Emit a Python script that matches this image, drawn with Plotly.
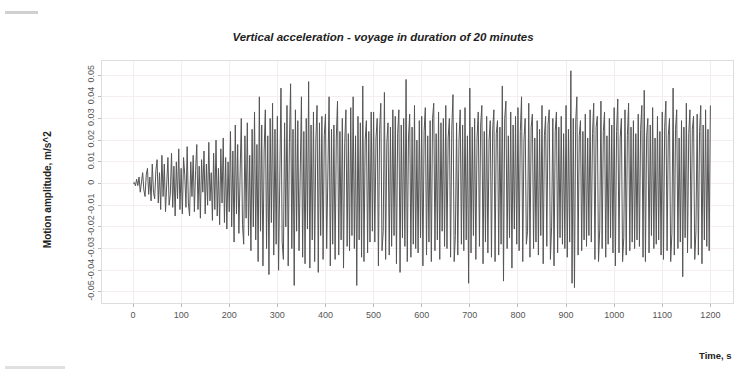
import plotly.graph_objects as go

# Vertical acceleration peaks (m/s^2), one every 2.5 s
accel = [
    0.0, 0.0005, -0.001, 0.002, -0.001, 0.003, -0.004, 0.002, 0.005, -0.003, -0.006, 0.004, 0.007, -0.005, 0.003, -0.008, 0.009, -0.004, -0.007, 0.006,
    0.011, -0.009, 0.005, -0.012, 0.013, -0.006, 0.009, -0.013, 0.004, 0.012, -0.010, -0.005, 0.014, -0.011, 0.008, -0.015, 0.010, -0.007, 0.016, -0.012,
    0.007, -0.014, 0.012, 0.004, -0.011, 0.017, -0.009, -0.015, 0.010, -0.006, 0.013, -0.013, 0.006, 0.018, -0.012, 0.008, -0.016, 0.011, -0.004, 0.015,
    -0.014, 0.009, -0.010, 0.019, -0.008, 0.005, -0.017, 0.014, -0.012, 0.020, -0.015, 0.007, -0.019, 0.016, -0.009, 0.021, -0.018, 0.012, -0.021, 0.010,
    -0.013, 0.024, -0.020, 0.015, -0.027, 0.027, -0.014, 0.018, -0.023, 0.012, 0.030, -0.019, -0.028, 0.022, -0.016, 0.028, -0.024, 0.013, -0.031, 0.025,
    -0.020, 0.033, -0.026, 0.018, -0.036, 0.040, -0.022, 0.027, -0.038, 0.015, 0.034, -0.030, 0.022, -0.042, 0.030, -0.018, 0.037, -0.033, 0.025, -0.028,
    0.031, -0.040, 0.021, 0.044, -0.027, -0.035, 0.028, -0.020, 0.036, -0.038, 0.019, 0.046, -0.030, 0.025, -0.047, 0.034, -0.022, 0.029, -0.031, 0.018,
    0.040, -0.034, 0.024, -0.037, 0.030, -0.021, 0.047, -0.039, 0.027, -0.026, 0.033, -0.036, 0.020, 0.036, -0.041, 0.028, -0.024, 0.031, -0.035, 0.022,
    0.032, -0.030, 0.018, 0.040, -0.038, 0.025, -0.028, 0.027, -0.035, 0.021, 0.038, -0.033, 0.024, -0.026, 0.030, -0.039, 0.019, 0.034, -0.029, 0.023,
    -0.031, 0.035, -0.024, 0.040, -0.030, 0.022, -0.047, 0.031, -0.026, 0.028, -0.034, 0.045, -0.036, 0.020, 0.029, -0.032, 0.024, -0.027, 0.033, -0.022,
    0.033, -0.027, 0.021, 0.030, -0.038, 0.025, 0.037, -0.031, -0.022, 0.042, -0.035, 0.019, 0.028, -0.033, 0.026, -0.029, 0.034, -0.024, 0.031, -0.037,
    0.023, 0.034, -0.041, 0.027, -0.025, 0.030, -0.029, 0.048, -0.036, 0.021, 0.032, -0.034, 0.026, -0.028, 0.036, -0.030, 0.020, -0.032, 0.029, -0.025,
    0.031, -0.038, 0.024, 0.035, -0.033, 0.022, -0.027, 0.029, -0.036, 0.030, 0.037, -0.031, 0.023, -0.026, 0.033, -0.035, 0.028, -0.022, 0.030, -0.029,
    0.036, -0.030, 0.021, 0.030, -0.034, 0.025, 0.041, -0.036, -0.024, 0.028, -0.033, 0.020, 0.034, -0.028, 0.027, -0.031, 0.035, -0.026, 0.022, -0.046,
    0.044, -0.032, 0.026, -0.024, 0.030, -0.035, 0.021, 0.033, -0.029, 0.027, 0.036, -0.037, 0.024, -0.027, 0.031, -0.032, 0.020, 0.029, -0.034, 0.025,
    0.034, -0.036, 0.023, 0.029, -0.033, 0.026, -0.028, 0.045, -0.045, 0.030, 0.038, -0.030, 0.022, -0.025, 0.033, -0.039, 0.027, -0.021, 0.031, -0.028,
    0.035, -0.031, 0.024, 0.040, -0.036, 0.020, 0.030, -0.028, -0.022, 0.037, -0.034, 0.026, 0.032, -0.030, 0.021, -0.027, 0.029, -0.033, 0.025, -0.024,
    0.036, -0.037, 0.022, 0.031, -0.029, 0.027, 0.034, -0.035, -0.020, 0.030, -0.038, 0.024, 0.033, -0.032, 0.026, -0.025, 0.031, -0.028, 0.023, -0.030,
    0.036, -0.034, 0.025, -0.027, 0.052, -0.046, 0.030, -0.048, 0.028, 0.040, -0.033, 0.022, 0.029, -0.031, 0.024, -0.026, 0.032, -0.029, 0.021, -0.024,
    0.034, -0.027, 0.023, 0.037, -0.035, 0.026, 0.031, -0.036, -0.021, 0.038, -0.030, 0.024, 0.033, -0.034, 0.022, -0.028, 0.030, -0.025, 0.027, -0.032,
    0.035, -0.038, 0.024, 0.039, -0.032, 0.021, 0.030, -0.036, -0.025, 0.034, -0.033, 0.022, 0.037, -0.031, 0.026, -0.027, 0.029, -0.030, 0.023, -0.026,
    0.032, -0.029, 0.025, 0.036, -0.034, 0.043, -0.036, 0.022, 0.030, -0.032, 0.027, -0.024, 0.035, -0.030, 0.021, -0.028, 0.031, -0.026, 0.024, -0.033,
    0.033, -0.035, 0.026, 0.038, -0.031, 0.022, 0.030, -0.036, -0.023, 0.044, -0.033, 0.025, 0.034, -0.030, 0.021, -0.027, 0.029, -0.043, 0.026, -0.025,
    0.037, -0.032, 0.023, 0.034, -0.030, 0.025, 0.031, -0.035, -0.022, 0.032, -0.033, 0.024, 0.036, -0.037, 0.027, -0.026, 0.034, -0.029, 0.025, -0.031,
    0.036,
]

# Sampling times (s) of the read-off values: one every 2.5 s
time_s = [2.5 * i for i in range(len(accel))]

x_ticks = [0, 100, 200, 300, 400, 500, 600, 700, 800, 900, 1000, 1100, 1200]
y_ticks = [-0.05, -0.04, -0.03, -0.02, -0.01, 0, 0.01, 0.02, 0.03, 0.04, 0.05]
y_tick_labels = ["-0.05", "-0.04", "-0.03", "-0.02", "-0.01", "0",
                 "0.01", "0.02", "0.03", "0.04", "0.05"]

fig = go.Figure()
fig.add_trace(go.Scatter(
    x=time_s, y=accel, mode="lines",
    line=dict(color="#555555", width=1),
    hoverinfo="skip", showlegend=False,
))

fig.update_layout(
    width=737, height=372,
    margin=dict(l=102, r=4, t=61, b=69),
    paper_bgcolor="white", plot_bgcolor="white",
    font=dict(family="Liberation Sans, Arial, sans-serif", size=9, color="#555"),
    title=dict(
        text="<b><i>Vertical acceleration - voyage in duration of 20 minutes</i></b>",
        x=383 / 737, xanchor="center", y=1 - 37 / 372, yanchor="middle",
        font=dict(size=11.5, color="#222"),
    ),
    xaxis=dict(
        range=[-64.5, 1247], tickmode="array", tickvals=x_ticks,
        ticks="outside", ticklen=3, tickcolor="#bbb",
        showgrid=True, gridcolor="#f3ecec", gridwidth=1,
        showline=True, linecolor="#ddd", mirror=True, zeroline=False,
        tickfont=dict(size=9, color="#555"),
    ),
    yaxis=dict(
        range=[-0.0551, 0.0565], tickmode="array", tickvals=y_ticks,
        ticktext=y_tick_labels, tickangle=-90,
        ticks="outside", ticklen=3, tickcolor="#bbb",
        showgrid=True, gridcolor="#f5eeee", gridwidth=1,
        showline=True, linecolor="#ddd", mirror=True, zeroline=False,
        tickfont=dict(size=9, color="#555"),
    ),
    annotations=[
        dict(text="<b>Motion amplitude, m/s^2</b>", xref="paper", yref="paper",
             x=38 / 737 - 102 / 737, y=(372 - 190 - 69) / (372 - 61 - 69),
             xanchor="center", yanchor="middle", textangle=-90, showarrow=False,
             font=dict(size=10, color="#222")),
        dict(text="<b>Time, s</b>", xref="paper", yref="paper",
             x=(697 - 102) / (737 - 102 - 4), y=-(355 - 303) / (372 - 61 - 69),
             xanchor="left", yanchor="middle", showarrow=False,
             font=dict(size=9.5, color="#222")),
    ],
    shapes=[
        dict(type="rect", xref="paper", yref="paper",
             x0=-97 / 631, x1=-64 / 631, y0=1 + 47 / 242, y1=1 + 50 / 242,
             fillcolor="#d0d0d0", line=dict(width=0)),
        dict(type="rect", xref="paper", yref="paper",
             x0=-97 / 631, x1=-37 / 631, y0=-(369 - 303) / 242, y1=-(366 - 303) / 242,
             fillcolor="#e0e0e0", line=dict(width=0)),
    ],
)

fig.write_html("out.html")
